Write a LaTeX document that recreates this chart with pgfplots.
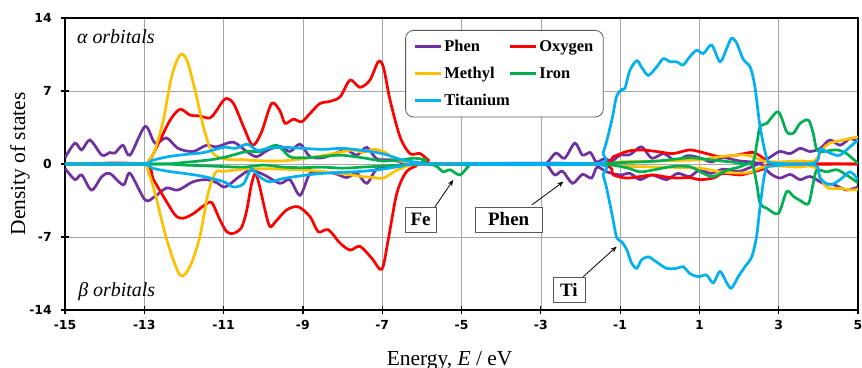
\documentclass[border=0pt]{standalone}
\usepackage{pgfplots}
\pgfplotsset{compat=1.18}
\usepackage{fontspec}
\setmainfont{Liberation Serif}
\newfontfamily\tickfont{DejaVu Sans}
\usetikzlibrary{arrows.meta}
\definecolor{cphen}{RGB}{112,48,160}
\definecolor{coxy}{RGB}{255,0,0}
\definecolor{cmeth}{RGB}{255,192,0}
\definecolor{ciron}{RGB}{0,176,80}
\definecolor{cti}{RGB}{0,176,240}
\begin{document}
\begin{tikzpicture}
\begin{axis}[
  scale only axis, width=793bp, height=292bp,
  xmin=-15, xmax=5, ymin=-14, ymax=14,
  xtick={-15,-13,-11,-9,-7,-5,-3,-1,1,3,5},
  xticklabels={-15,-13,-11,-9,-7,-5,-3,-1,1,3,5},
  ytick={-14,-7,0,7,14},
  yticklabels={-14,-7,0,7,14},
  tick pos=left, tick align=center,
  major tick length=8bp,
  tick style={black, line width=1.2bp},
  axis line style={black, line width=1.4bp},
  grid=major, grid style={gray!70, line width=0.6bp},
  tick label style={font=\tickfont\bfseries\fontsize{12.5}{12.5}\selectfont},
  yticklabel style={anchor=east, inner sep=0pt, xshift=-9bp},
  xticklabel style={anchor=base, inner sep=0pt},
  xticklabel shift=15bp,
  xlabel={Energy, \textit{E} / eV},
  ylabel={Density of states},
  label style={font=\fontsize{21.5}{21.5}\selectfont},
  xlabel style={at={(axis description cs:0.485,-0.1884)}, anchor=base},
  ylabel style={at={(axis description cs:-0.0504,0.5)}, anchor=base, rotate=0},
  legend columns=2,
  legend style={at={(0.429,0.959)}, anchor=north west, draw=black!65, line width=0.8bp,
    rounded corners=8bp, fill=white, font=\bfseries\fontsize{16.5}{16.5}\selectfont,
    inner xsep=8bp, inner ysep=8bp, row sep=10bp,
    /tikz/every even column/.append style={column sep=12bp}},
  legend cell align=left,
  legend image code/.code={\draw[#1, line width=2.8bp] (0bp,0bp) -- (26bp,0bp);},
  every axis plot/.append style={line width=2.7bp, smooth, tension=0.5},
]
\coordinate (SW) at (rel axis cs:0,0);
\coordinate (NE) at (rel axis cs:1,1);
% Phen
\addplot[cphen] coordinates {
(-15,0.6) (-14.75,2.0) (-14.58,1.35) (-14.37,2.3) (-14.07,0.85) (-13.87,1.1) (-13.74,1.05) (-13.54,1.8) (-13.36,0.85) (-12.98,3.6) (-12.73,2.0) (-12.44,2.5) (-12.15,1.5) (-11.77,1.2) (-11.43,1.8) (-11.17,1.65) (-10.76,2.1) (-10.42,1.2) (-10.17,0.7) (-9.9,1.3) (-9.58,1.7) (-9.33,1.2) (-9.07,1.9) (-8.82,0.7) (-8.5,0.6) (-8.2,1.0) (-7.9,1.35) (-7.64,0.85) (-7.39,1.6) (-7.14,0.5) (-6.8,0.4) (-6.5,0.2) (-6.2,0) (-3.1,0) (-2.85,0.1) (-2.62,1.05) (-2.4,0.55) (-2.14,2.0) (-1.95,0.85) (-1.75,1.1) (-1.6,0.2) (-1.4,0.5) (-1.2,0.3) (-1.0,0.85) (-0.75,0.9) (-0.46,1.65) (-0.2,0.55) (0.1,1.0) (0.4,0.3) (0.7,0.8) (1.0,0.6) (1.3,0.2) (1.6,0.6) (2.0,0.3) (2.3,0.2) (2.55,0.1) (2.8,0.7) (3.03,1.2) (3.29,1.0) (3.54,1.5) (3.79,1.2) (4.05,1.5) (4.29,2.3) (4.55,1.8) (4.8,2.45) (5.0,2.1)};
\addlegendentry{Phen}
\addplot[cphen, forget plot] coordinates {
(-15,-0.4) (-14.75,-1.5) (-14.58,-1.05) (-14.33,-2.5) (-14.07,-1.2) (-13.87,-0.9) (-13.53,-2.0) (-13.36,-0.9) (-12.98,-3.45) (-12.73,-3.1) (-12.44,-2.3) (-12.15,-2.5) (-11.77,-1.7) (-11.43,-1.5) (-11.17,-1.8) (-10.96,-2.2) (-10.6,-1.2) (-10.33,-0.6) (-10.0,-1.0) (-9.58,-1.85) (-9.33,-1.5) (-9.07,-3.0) (-8.82,-0.9) (-8.5,-0.8) (-8.2,-0.9) (-7.9,-1.3) (-7.64,-0.9) (-7.39,-1.85) (-7.14,-0.5) (-6.8,-0.3) (-6.5,-0.1) (-6.2,0) (-3.1,0) (-2.85,-0.1) (-2.65,-1.05) (-2.45,-0.7) (-2.2,-1.85) (-1.95,-1.0) (-1.72,-1.35) (-1.58,-0.3) (-1.34,-0.75) (-1.0,-1.05) (-0.75,-0.9) (-0.5,-1.5) (-0.2,-1.05) (0.17,-1.5) (0.45,-0.9) (0.75,-1.2) (1.0,-0.6) (1.3,-0.9) (1.6,-0.5) (2.0,-0.7) (2.3,-0.3) (2.55,0) (2.78,-0.9) (3.03,-1.35) (3.29,-1.0) (3.54,-1.5) (3.79,-1.2) (4.12,-1.85) (4.4,-2.0) (4.71,-2.5) (5.0,-2.2)};
% Oxygen
\addplot[coxy] coordinates {
(-15,0) (-13.1,0) (-12.86,0.4) (-12.6,2.3) (-12.35,4.2) (-12.1,5.25) (-11.85,4.7) (-11.6,4.6) (-11.35,4.4) (-11.2,5.0) (-10.96,6.25) (-10.75,5.8) (-10.5,3.6) (-10.27,1.8) (-10.05,3.0) (-9.79,5.8) (-9.58,5.1) (-9.45,3.9) (-9.24,4.3) (-9.03,4.05) (-8.82,4.85) (-8.57,5.8) (-8.32,6.0) (-8.06,6.45) (-7.81,8.05) (-7.56,7.35) (-7.31,8.05) (-7.1,9.8) (-6.97,9.3) (-6.8,6.1) (-6.55,2.6) (-6.3,1.0) (-6.05,1.0) (-5.84,0.4) (-5.6,0) (-1.65,0) (-1.17,0.7) (-0.83,1.2) (-0.5,1.35) (-0.08,1.2) (0.34,1.0) (0.76,1.35) (1.18,1.0) (1.52,0.7) (1.94,0.85) (2.36,1.1) (2.7,0.35) (2.95,0) (5,0)};
\addlegendentry{Oxygen}
\addplot[coxy, forget plot] coordinates {
(-15,0) (-13.05,0) (-12.77,-1.5) (-12.52,-3.1) (-12.22,-4.9) (-12.02,-5.2) (-11.76,-4.75) (-11.5,-4.0) (-11.3,-3.7) (-11.1,-5.3) (-10.92,-6.5) (-10.75,-6.65) (-10.55,-6.1) (-10.42,-4.5) (-10.3,-2.0) (-10.2,-0.9) (-10.1,-2.0) (-9.95,-4.5) (-9.83,-6.0) (-9.66,-5.4) (-9.41,-4.4) (-9.12,-4.1) (-8.82,-5.05) (-8.61,-6.5) (-8.36,-6.3) (-8.06,-7.6) (-7.81,-8.25) (-7.56,-7.9) (-7.26,-9.05) (-7.01,-10.1) (-6.85,-7.3) (-6.63,-2.8) (-6.4,-0.8) (-6.15,-0.2) (-5.9,0) (-1.65,0) (-1.17,-1.05) (-0.83,-1.35) (-0.5,-1.2) (-0.16,-1.05) (0.17,-1.25) (0.43,-1.35) (0.76,-1.3) (1.0,-1.5) (1.35,-1.35) (1.6,-0.9) (2.02,-1.05) (2.36,-0.75) (2.6,-0.5) (2.9,0) (5,0)};
% Methyl
\addplot[cmeth] coordinates {
(-15,0) (-13.1,0) (-12.9,0.3) (-12.73,1.35) (-12.52,4.2) (-12.31,8.4) (-12.1,10.45) (-11.93,10.0) (-11.72,7.1) (-11.51,3.6) (-11.3,1.2) (-11.0,0.5) (-10.5,0.4) (-10.0,0.3) (-9.5,0.3) (-8.9,0.55) (-8.23,1.0) (-7.73,1.35) (-7.5,1.1) (-7.22,1.4) (-6.97,1.2) (-6.63,0.4) (-6.3,0.1) (-6.0,0) (-1.6,0) (-1.0,0.2) (0,0.3) (1.0,0.4) (1.52,0.7) (2.19,0.85) (2.6,0.3) (3.0,0.2) (3.5,0.3) (3.9,0.3) (4.1,1.4) (4.29,2.0) (4.63,2.3) (5.0,2.6)};
\addlegendentry{Methyl}
\addplot[cmeth, forget plot] coordinates {
(-15,0) (-13.1,0) (-12.9,-0.8) (-12.73,-2.8) (-12.43,-7.3) (-12.1,-10.65) (-11.85,-9.85) (-11.6,-7.0) (-11.39,-2.8) (-11.2,-0.8) (-11.0,-0.7) (-10.5,-0.5) (-10.0,-0.45) (-9.5,-0.5) (-8.9,-0.6) (-8.06,-0.9) (-7.5,-1.2) (-7.22,-1.3) (-6.97,-1.35) (-6.63,-0.6) (-6.3,-0.1) (-6.0,0) (-1.6,0) (-1.0,-0.2) (0,-0.3) (1.0,-0.4) (1.52,-0.75) (2.19,-0.85) (2.6,-0.3) (3.0,-0.2) (3.5,-0.3) (3.9,-0.3) (4.2,-2.2) (4.55,-2.35) (4.88,-2.5) (5.0,-2.4)};
% Iron
\addplot[ciron] coordinates {
(-15,0) (-12.6,0) (-12.0,0.15) (-11.34,0.4) (-10.92,0.7) (-10.42,1.2) (-10.08,1.2) (-9.66,1.8) (-9.33,0.7) (-9.0,0.6) (-8.5,0.7) (-8.06,0.85) (-7.5,0.6) (-7.0,0.3) (-6.5,0.4) (-6.21,0.55) (-5.9,0.4) (-5.7,0) (-1.7,0) (-1.2,0.1) (-0.5,0.2) (0,0.3) (0.76,0.6) (1.27,0.4) (1.8,0.2) (2.32,0.1) (2.45,2.0) (2.53,3.6) (2.7,3.9) (2.99,5.0) (3.2,3.1) (3.37,2.95) (3.54,3.9) (3.75,4.2) (3.87,2.95) (3.96,1.35) (4.12,1.2) (4.46,1.35) (4.71,1.0) (5.0,0.05)};
\addlegendentry{Iron}
\addplot[ciron, forget plot] coordinates {
(-15,0) (-12.6,0) (-12,-0.1) (-11.3,-0.2) (-10.5,-0.3) (-10,-0.1) (-9.5,-0.3) (-9,-0.35) (-8.5,-0.3) (-8,-0.4) (-7.5,-0.3) (-7,-0.2) (-6.5,-0.1) (-6.0,0) (-5.8,0) (-5.62,-0.25) (-5.46,-0.75) (-5.29,-0.55) (-5.04,-1.05) (-4.83,-0.25) (-4.65,0) (-1.7,0) (-1.2,-0.1) (-0.8,-0.4) (-0.5,-0.75) (-0.2,-0.6) (0.2,-0.3) (0.5,-0.2) (0.8,-0.3) (1.1,-0.9) (1.35,-1.2) (1.7,-0.6) (2.0,-0.3) (2.32,0) (2.45,-2.0) (2.53,-3.8) (2.7,-4.25) (2.99,-4.75) (3.2,-2.65) (3.37,-3.1) (3.54,-3.5) (3.75,-3.8) (3.87,-1.85) (3.96,-0.6) (4.21,-0.75) (4.46,-0.55) (4.71,-1.05) (5.0,-1.8)};
% Titanium
\addplot[cti] coordinates {
(-15,0) (-13.1,0) (-12.8,0.35) (-12.4,0.7) (-12.0,0.9) (-11.5,1.1) (-11.0,1.6) (-10.7,1.5) (-10.4,1.9) (-10.15,1.3) (-9.9,1.5) (-9.5,1.6) (-9.0,1.5) (-8.5,1.4) (-8.0,1.5) (-7.5,1.3) (-7.0,1.0) (-6.5,0.4) (-6.0,0.1) (-5.7,0) (-1.68,0) (-1.42,1.2) (-1.21,4.2) (-1.09,6.45) (-0.96,7.15) (-0.88,7.25) (-0.75,9.0) (-0.58,9.9) (-0.46,9.3) (-0.29,8.5) (-0.08,9.3) (0.09,10.1) (0.26,9.8) (0.43,9.8) (0.59,9.5) (0.76,10.3) (0.93,10.9) (1.1,10.6) (1.31,11.4) (1.52,9.8) (1.69,11.1) (1.81,12.05) (1.94,11.6) (2.11,10.0) (2.28,9.3) (2.4,7.4) (2.53,3.6) (2.7,0.55) (2.86,0.1) (3.9,0.1) (4.04,1.4) (4.2,1.2) (4.4,0.9) (4.55,0.85) (4.8,1.65) (5.0,2.3)};
\addlegendentry{\makebox[0pt][l]{Titanium}}
\addplot[cti, forget plot] coordinates {
(-15,0) (-13.1,0) (-12.8,-0.4) (-12.4,-0.7) (-12.0,-0.9) (-11.5,-1.2) (-11.0,-1.7) (-10.75,-2.2) (-10.5,-1.9) (-10.3,-0.5) (-10.1,-1.2) (-9.85,-1.7) (-9.5,-1.4) (-9.0,-1.1) (-8.5,-0.9) (-8.0,-0.8) (-7.5,-0.7) (-7.0,-0.5) (-6.5,-0.2) (-6.0,0) (-1.68,0) (-1.42,-1.2) (-1.21,-4.7) (-1.09,-7.0) (-0.96,-7.45) (-0.83,-8.25) (-0.71,-9.5) (-0.58,-10.0) (-0.46,-9.2) (-0.29,-8.9) (-0.08,-9.4) (0.17,-10.0) (0.43,-10.0) (0.59,-9.85) (0.76,-10.5) (0.97,-10.8) (1.18,-10.65) (1.35,-11.4) (1.52,-10.3) (1.69,-11.4) (1.81,-11.9) (1.98,-10.8) (2.15,-9.85) (2.32,-8.9) (2.44,-7.0) (2.53,-4.1) (2.65,-0.9) (2.8,-0.2) (3.9,-0.1) (4.04,-1.35) (4.29,-2.0) (4.55,-1.5) (4.8,-0.75) (5.0,-1.5)};
% annotations
\node[anchor=base west, font=\itshape\fontsize{20}{20}\selectfont, inner sep=0pt] at (axis cs:-14.7,11.57) {α orbitals};
\node[anchor=base west, font=\itshape\fontsize{20}{20}\selectfont, inner sep=0pt] at (axis cs:-14.67,-12.72) {β orbitals};
\draw[-{Stealth[length=6bp,width=5bp]}, line width=0.8bp] (axis cs:-5.67,-4.12) -- (axis cs:-5.21,-1.53);
\draw[-{Stealth[length=6bp,width=5bp]}, line width=0.8bp] (axis cs:-3.23,-3.93) -- (axis cs:-2.43,-1.7);
\draw[-{Stealth[length=6bp,width=5bp]}, line width=0.8bp] (axis cs:-1.93,-10.8) -- (axis cs:-1.09,-7.93);
\node[draw=black!65, line width=0.8bp, fill=white, font=\bfseries\fontsize{19}{19}\selectfont, minimum height=25bp, minimum width=31bp, inner xsep=5bp] at (axis cs:-6.03,-5.32) {Fe};
\node[draw=black!65, line width=0.8bp, fill=white, font=\bfseries\fontsize{19}{19}\selectfont, minimum height=25bp, minimum width=67bp, inner xsep=5bp] at (axis cs:-3.81,-5.32) {Phen};
\node[draw=black!65, line width=0.8bp, fill=white, font=\bfseries\fontsize{19}{19}\selectfont, minimum height=25bp, minimum width=32bp, inner xsep=4bp] at (axis cs:-2.29,-12.03) {Ti};
\end{axis}
\pgfresetboundingbox
\path ([shift={(-65bp,-58bp)}]SW) rectangle ([shift={(4bp,18bp)}]NE);
\end{tikzpicture}
\end{document}
